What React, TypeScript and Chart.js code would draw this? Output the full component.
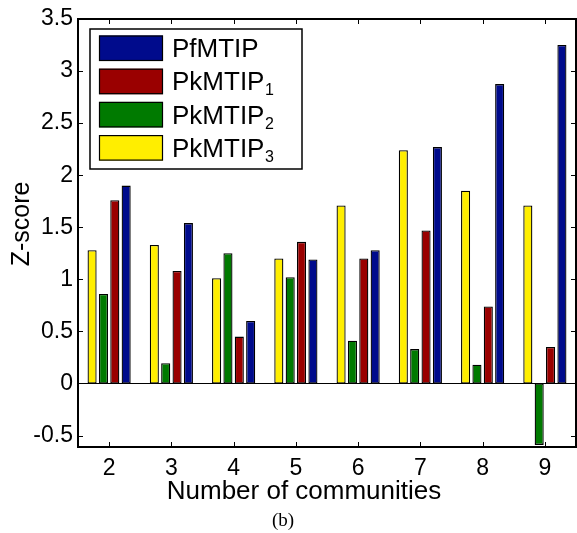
import React, { useEffect, useRef } from 'react';
import { Chart, registerables } from 'chart.js';

Chart.register(...registerables);

// ---- data ----
const categories = ['2', '3', '4', '5', '6', '7', '8', '9'];
const pfMTIP = [1.9, 1.54, 0.6, 1.19, 1.28, 2.27, 2.875, 3.25];
const pkMTIP1 = [1.76, 1.08, 0.45, 1.36, 1.2, 1.47, 0.74, 0.35];
const pkMTIP2 = [0.86, 0.195, 1.25, 1.02, 0.41, 0.33, 0.18, -0.59];
const pkMTIP3 = [1.28, 1.33, 1.01, 1.2, 1.71, 2.24, 1.85, 1.71];
const yTicks = [-0.5, 0, 0.5, 1, 1.5, 2, 2.5, 3, 3.5];
const yMin = -0.61;
const yMax = 3.5;
const xTitle = 'Number of communities';
const yTitle = 'Z-score';
const caption = '(b)';
// legend entries (top to bottom): base name + subscript
const legendBase = ['PfMTIP', 'PkMTIP', 'PkMTIP', 'PkMTIP'];
const legendSub = ['', '1', '2', '3'];

const BLUE = '#000B8C';
const RED = '#9A0000';
const GREEN = '#007A00';
const YELLOW = '#FFEE00';

const SANS = '"Liberation Sans", Arial, Helvetica, sans-serif';

const decorPlugin = {
  id: 'matlabDecor',
  beforeDatasetsDraw(chart: any) {
    const { ctx, chartArea } = chart;
    const y0 = chart.scales.y.getPixelForValue(0);
    ctx.save();
    ctx.strokeStyle = '#000';
    ctx.lineWidth = 1.2;
    ctx.beginPath();
    ctx.moveTo(chartArea.left, y0);
    ctx.lineTo(chartArea.right, y0);
    ctx.stroke();
    ctx.restore();
  },
  afterDraw(chart: any) {
    const { ctx, chartArea } = chart;
    const { left, right, top, bottom } = chartArea;
    const xs = chart.scales.x;
    const ys = chart.scales.y;
    ctx.save();
    // ticks inward
    ctx.strokeStyle = '#000';
    ctx.lineWidth = 1;
    ctx.beginPath();
    categories.forEach((_, i) => {
      const px = Math.round(xs.getPixelForValue(i)) + 0.5;
      ctx.moveTo(px, bottom);
      ctx.lineTo(px, bottom - 5);
      ctx.moveTo(px, top);
      ctx.lineTo(px, top + 5);
    });
    yTicks.forEach((v) => {
      const py = Math.round(ys.getPixelForValue(v)) + 0.5;
      ctx.moveTo(left, py);
      ctx.lineTo(left + 5, py);
      ctx.moveTo(right, py);
      ctx.lineTo(right - 5, py);
    });
    ctx.stroke();
    // frame
    ctx.lineWidth = 2;
    ctx.strokeRect(left, top, right - left, bottom - top);

    // legend
    const bx = left + 12;
    const by = top + 10;
    const bw = 212;
    const bh = 140;
    ctx.fillStyle = '#fff';
    ctx.fillRect(bx, by, bw, bh);
    ctx.lineWidth = 1.5;
    ctx.strokeStyle = '#000';
    ctx.strokeRect(bx, by, bw, bh);
    const ds = chart.data.datasets.slice().reverse();
    ds.forEach((d: any, i: number) => {
      const sy = by + 6.5 + i * 33.2;
      const sx = bx + 9;
      ctx.fillStyle = d.backgroundColor;
      ctx.fillRect(sx, sy, 64, 25.5);
      ctx.lineWidth = 1.2;
      ctx.strokeStyle = '#000';
      ctx.strokeRect(sx + 0.5, sy + 0.5, 63, 24.5);
      ctx.fillStyle = '#000';
      ctx.font = `26px ${SANS}`;
      ctx.textAlign = 'left';
      ctx.textBaseline = 'alphabetic';
      const baseY = sy + 12.75 + 9;
      const tx = bx + 82;
      ctx.fillText(legendBase[i], tx, baseY);
      if (legendSub[i]) {
        const w = ctx.measureText(legendBase[i]).width;
        ctx.font = `16px ${SANS}`;
        ctx.fillText(legendSub[i], tx + w + 0.5, baseY + 5);
      }
    });

    // axis titles
    ctx.fillStyle = '#000';
    ctx.font = `26px ${SANS}`;
    ctx.textAlign = 'center';
    ctx.textBaseline = 'middle';
    ctx.fillText(xTitle, 304, 492);
    ctx.save();
    ctx.translate(22, 224);
    ctx.rotate(-Math.PI / 2);
    ctx.font = `25px ${SANS}`;
    ctx.fillText(yTitle, 0, 0);
    ctx.restore();

    // caption
    ctx.font = '19px "Liberation Serif", "DejaVu Serif", serif';
    ctx.textAlign = 'center';
    ctx.textBaseline = 'middle';
    ctx.fillText(caption, 283, 521);
    ctx.restore();
  },
};

export default function App() {
  const ref = useRef<HTMLCanvasElement | null>(null);
  useEffect(() => {
    if (!ref.current) return;
    const chart = new Chart(ref.current, {
      type: 'bar',
      data: {
        labels: categories,
        datasets: [
          { label: 'PkMTIP₃', data: pkMTIP3, backgroundColor: YELLOW },
          { label: 'PkMTIP₂', data: pkMTIP2, backgroundColor: GREEN },
          { label: 'PkMTIP₁', data: pkMTIP1, backgroundColor: RED },
          { label: 'PfMTIP', data: pfMTIP, backgroundColor: BLUE },
        ].map((d) => ({
          ...d,
          borderColor: '#000',
          borderWidth: 1.3,
          borderSkipped: false,
          categoryPercentage: 0.73,
          barPercentage: 0.8,
        })),
      },
      options: {
        responsive: false,
        animation: false,
        layout: { padding: { top: 19, right: 1, left: 0, bottom: 0 } },
        plugins: {
          legend: { display: false },
          tooltip: { enabled: false },
        },
        scales: {
          x: {
            type: 'category',
            offset: true,
            grid: { display: false, drawTicks: false, tickLength: 0 },
            border: { display: false },
            ticks: {
              color: '#000',
              font: { family: SANS, size: 23 },
              padding: 8,
              maxRotation: 0,
              autoSkip: false,
            },
            afterFit: (s: any) => {
              s.height = 86;
            },
          },
          y: {
            type: 'linear',
            min: yMin,
            max: yMax,
            grid: { display: false, drawTicks: false, tickLength: 0 },
            border: { display: false },
            ticks: {
              color: '#000',
              font: { family: SANS, size: 23 },
              padding: 5,
              callback: (v: any) => String(v),
            },
            afterBuildTicks: (s: any) => {
              s.ticks = yTicks.map((v) => ({ value: v }));
            },
            afterFit: (s: any) => {
              s.width = 78;
            },
          },
        },
      },
      plugins: [decorPlugin],
    } as any);
    return () => chart.destroy();
  }, []);
  return (
    <div style={{ position: 'absolute', left: 0, top: 0, width: 577, height: 533, background: '#fff' }}>
      <canvas ref={ref} width={577} height={533} style={{ display: 'block' }} />
    </div>
  );
}
